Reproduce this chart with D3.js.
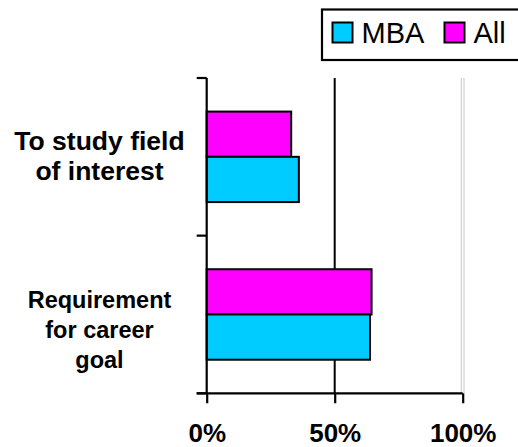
<html>
<head>
    <script src="https://cdnjs.cloudflare.com/ajax/libs/d3/7.8.5/d3.min.js"></script>
    <style>
        body { margin: 0; background: #fff; }
        text { font-family: Arial, 'Liberation Sans', sans-serif; }
    </style>
</head>
<body>
    <script>
        // chart data
        const categories = ['To study field of interest', 'Requirement for career goal'];
        const categoryLines = [['To study field', 'of interest'], ['Requirement', 'for career', 'goal']];
        const seriesNames = ['All', 'MBA'];       // drawn top to bottom in each group
        const legendOrder = ['MBA', 'All'];
        const mbaValues = [36, 63.8];
        const allValues = [33, 64.4];
        const tickValues = [0, 50, 100];
        const tickLabels = ['0%', '50%', '100%'];

        const colors = { MBA: '#00CCFF', All: '#FF00FF' };
        const values = { MBA: mbaValues, All: allValues };

        const width = 518, height = 447;
        const plot = { left: 206.7, right: 462.7, top: 78, bottom: 393.3 };

        const svg = d3.select('body').append('svg')
            .attr('width', width)
            .attr('height', height);

        const x = d3.scaleLinear().domain([0, 100]).range([plot.left, plot.right]);
        const y0 = d3.scaleBand().domain(categories)
            .range([plot.top, plot.bottom])
            .paddingInner(0.426).paddingOuter(0.213);
        const y1 = d3.scaleBand().domain(seriesNames).range([0, y0.bandwidth()]);

        // gridlines
        svg.append('line')
            .attr('x1', x(50)).attr('x2', x(50))
            .attr('y1', plot.top).attr('y2', plot.bottom)
            .style('stroke', '#000').style('stroke-width', 2);
        [-1.4, 1.3].forEach(dx => {
            svg.append('line')
                .attr('x1', x(100) + dx).attr('x2', x(100) + dx)
                .attr('y1', plot.top).attr('y2', plot.bottom)
                .style('stroke', '#c8c8c8').style('stroke-width', 1);
        });

        // bars
        const groups = svg.selectAll('.group')
            .data(categories)
            .enter().append('g')
            .attr('transform', d => `translate(0, ${y0(d)})`);

        groups.selectAll('rect')
            .data((d, i) => seriesNames.map(s => ({ s, v: values[s][i] })))
            .enter().append('rect')
            .attr('x', x(0))
            .attr('y', d => y1(d.s))
            .attr('width', d => x(d.v) - x(0))
            .attr('height', y1.bandwidth())
            .style('fill', d => colors[d.s])
            .style('stroke', '#000')
            .style('stroke-width', 2);

        // x axis
        const xAxis = svg.append('g')
            .attr('transform', `translate(0, ${plot.bottom})`)
            .call(d3.axisBottom(x).tickValues(tickValues).tickSize(10).tickFormat((d, i) => tickLabels[i]));
        xAxis.select('.domain').remove();
        xAxis.append('line')
            .attr('x1', plot.left - 10).attr('x2', plot.right)
            .style('stroke', '#000').style('stroke-width', 2.2);
        xAxis.selectAll('.tick line').style('stroke', '#000').style('stroke-width', 2.2);
        xAxis.selectAll('.tick text')
            .attr('y', 49)
            .attr('dy', 0)
            .style('font-size', '26px')
            .style('font-weight', 'bold')
            .style('fill', '#000');

        // y axis (lines and ticks at band edges)
        svg.append('line')
            .attr('x1', plot.left).attr('x2', plot.left)
            .attr('y1', plot.top).attr('y2', plot.bottom)
            .style('stroke', '#000').style('stroke-width', 2.2);
        const edges = [plot.top].concat(categories.map(c => y0(c) - y0.step() * y0.paddingOuter() + y0.step()));
        svg.selectAll('.ytick')
            .data(edges)
            .enter().append('line')
            .attr('x1', plot.left - 10).attr('x2', plot.left)
            .attr('y1', d => d).attr('y2', d => d)
            .style('stroke', '#000').style('stroke-width', 2.2);

        // category labels
        const labelShift = [8, 24];
        const labelSize = [26.5, 23.5];
        categories.forEach((c, i) => {
            const lines = categoryLines[i];
            const mid = y0(c) + y0.bandwidth() / 2;
            const first = mid - (lines.length - 1) * 15 + labelShift[i];
            const t = svg.append('text')
                .attr('text-anchor', 'middle')
                .style('font-size', labelSize[i] + 'px')
                .style('font-weight', 'bold');
            lines.forEach((l, j) => {
                t.append('tspan')
                    .attr('x', 99.5)
                    .attr('y', first + j * 30)
                    .text(l);
            });
        });

        // legend
        const legend = svg.append('g');
        legend.append('rect')
            .attr('x', 322).attr('y', 9.5)
            .attr('width', 230).attr('height', 50.5)
            .style('fill', '#fff').style('stroke', '#000').style('stroke-width', 2.2);
        const legendX = [332.5, 444.5];
        legendOrder.forEach((s, i) => {
            legend.append('rect')
                .attr('x', legendX[i]).attr('y', 22.5)
                .attr('width', 20).attr('height', 20)
                .style('fill', colors[s]).style('stroke', '#000').style('stroke-width', 2);
            legend.append('text')
                .attr('x', legendX[i] + 29).attr('y', 43)
                .style('font-size', '29px')
                .text(s);
        });
    </script>
</body>
</html>
